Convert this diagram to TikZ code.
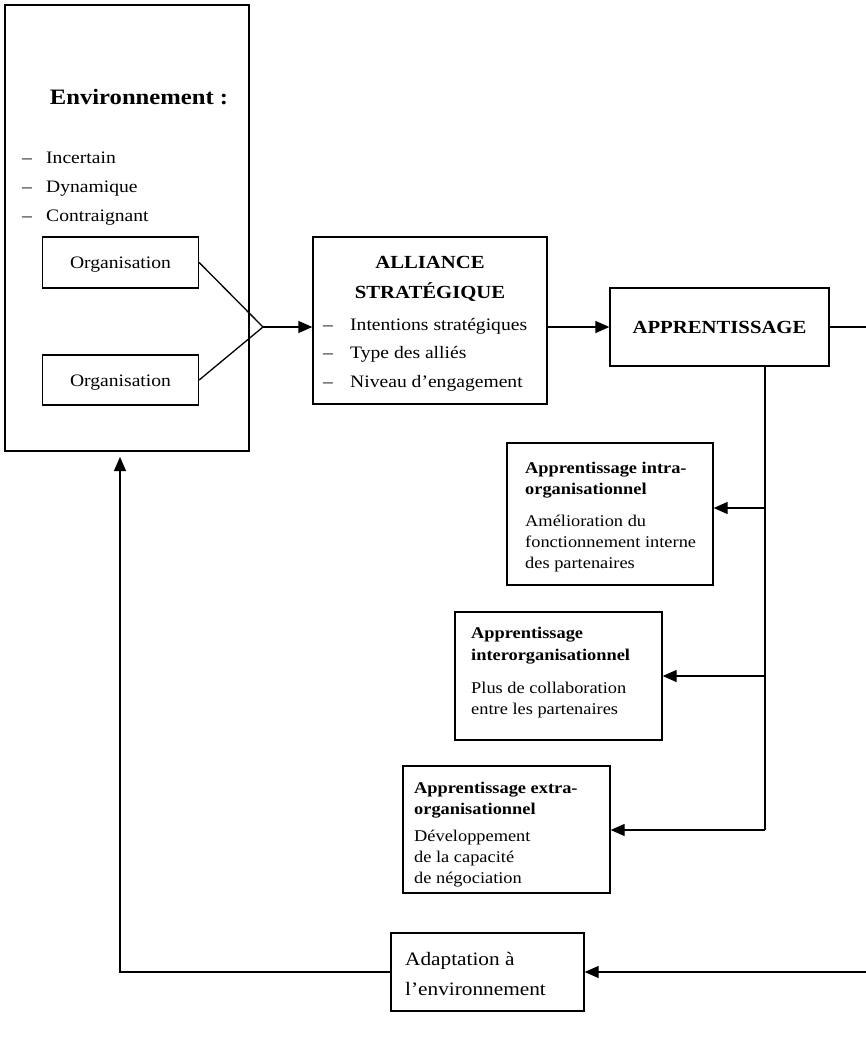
\documentclass[tikz,border=0pt]{standalone}
\usepackage{fontspec}
\setmainfont[FakeStretch=1.12]{Liberation Serif}
\usetikzlibrary{arrows.meta}
\tikzset{
  box/.style={draw, line width=1.3pt, rectangle, inner sep=0pt},
  txt/.style={anchor=base west, inner sep=0pt, font=\fontsize{17.5}{21}\selectfont},
  smalltxt/.style={anchor=base west, inner sep=0pt, font=\fontsize{16.4}{20}\selectfont},
  smallbold/.style={anchor=base west, inner sep=0pt, font=\fontsize{16.4}{20}\selectfont\bfseries},
  ctxt/.style={anchor=base, inner sep=0pt},
  conn/.style={line width=1.3pt},
  arr/.style={line width=1.3pt, -{Triangle[length=14pt,width=12pt]}}
}
\begin{document}
\begin{tikzpicture}[x=1pt,y=-1pt]
\useasboundingbox (0,0) rectangle (866,1038);
% boxes
\node[box, minimum width=244pt, minimum height=446pt] (env) at (127,228) {};
\node[box, minimum width=156pt, minimum height=51pt] (org1) at (120.5,262.5) {};
\node[box, minimum width=156pt, minimum height=50pt] (org2) at (120.5,380) {};
\node[box, minimum width=234pt, minimum height=167pt] (alli) at (430,320.5) {};
\node[box, minimum width=219pt, minimum height=78pt] (appr) at (719.5,327) {};
\node[box, minimum width=206pt, minimum height=142pt] (intra) at (610,514) {};
\node[box, minimum width=207pt, minimum height=128pt] (inter) at (558.5,676) {};
\node[box, minimum width=207pt, minimum height=127pt] (extra) at (506.5,829.5) {};
\node[box, minimum width=193pt, minimum height=78pt] (adapt) at (487.5,972) {};
% environment texts
\node[ctxt, font=\fontsize{22}{26}\selectfont\bfseries] (tenv) at (139,105) {Environnement :};
\node[txt] (d1) at (22,163) {–};
\node[txt] (l1) at (46,163) {Incertain};
\node[txt] (d2) at (22,192) {–};
\node[txt] (l2) at (46,192) {Dynamique};
\node[txt] (d3) at (22,221) {–};
\node[txt] (l3) at (46,221) {Contraignant};
\node[ctxt, font=\fontsize{17.5}{21}\selectfont] (to1) at (120.5,268) {Organisation};
\node[ctxt, font=\fontsize{17.5}{21}\selectfont] (to2) at (120.5,386) {Organisation};
% alliance texts
\node[ctxt, font=\fontsize{18.5}{22}\selectfont\bfseries] (ta1) at (430,268) {ALLIANCE};
\node[ctxt, font=\fontsize{18.5}{22}\selectfont\bfseries] (ta2) at (430,298) {STRATÉGIQUE};
\node[txt] (ad1) at (323,330) {–};
\node[txt] (al1) at (350,330) {Intentions stratégiques};
\node[txt] (ad2) at (323,358) {–};
\node[txt] (al2) at (350,358) {Type des alliés};
\node[txt] (ad3) at (323,387) {–};
\node[txt] (al3) at (350,387) {Niveau d’engagement};
% apprentissage
\node[ctxt, font=\fontsize{18.5}{22}\selectfont\bfseries] (tap) at (719.5,333) {APPRENTISSAGE};
% intra
\node[smallbold] (ti1) at (525,473) {Apprentissage intra-};
\node[smallbold] (ti2) at (525,494) {organisationnel};
\node[smalltxt] (ti3) at (525,526) {Amélioration du};
\node[smalltxt] (ti4) at (525,547) {fonctionnement interne};
\node[smalltxt] (ti5) at (525,568) {des partenaires};
% inter
\node[smallbold] (tn1) at (471,638) {Apprentissage};
\node[smallbold] (tn2) at (471,660) {interorganisationnel};
\node[smalltxt] (tn3) at (471,693) {Plus de collaboration};
\node[smalltxt] (tn4) at (471,714) {entre les partenaires};
% extra
\node[smallbold] (te1) at (414,793) {Apprentissage extra-};
\node[smallbold] (te2) at (414,814) {organisationnel};
\node[smalltxt] (te3) at (414,841) {Développement};
\node[smalltxt] (te4) at (414,862) {de la capacité};
\node[smalltxt] (te5) at (414,883) {de négociation};
% adaptation
\node[anchor=base west, inner sep=0pt, font=\fontsize{19}{23}\selectfont] (tad1) at (405,965) {Adaptation à};
\node[anchor=base west, inner sep=0pt, font=\fontsize{19}{23}\selectfont] (tad2) at (405,995) {l’environnement};
% coordinates
\coordinate (j) at (263,327);
\coordinate (r1) at (866,327);
\coordinate (r2) at (866,972);
\coordinate (vb) at (765,830);
\coordinate (vi) at (765,508);
\coordinate (vn) at (765,676);
\coordinate (c1) at (120,972);
\coordinate (c2) at (120,457);
% connectors
\draw[conn] (org1.east) -- (j) -- (org2.east);
\draw[arr] (j) -- (alli.west |- j);
\draw[arr] (alli.east |- appr.west) -- (appr.west);
\draw[conn] (appr.east) -- (r1);
\draw[conn] (appr.south -| vb) -- (vb);
\draw[arr] (vi) -- (intra.east |- vi);
\draw[arr] (vn) -- (inter.east |- vn);
\draw[arr] (vb) -- (extra.east |- vb);
\draw[arr] (r2) -- (adapt.east);
\draw[arr] (adapt.west) -- (c1) -- (c2);
\end{tikzpicture}
\end{document}
